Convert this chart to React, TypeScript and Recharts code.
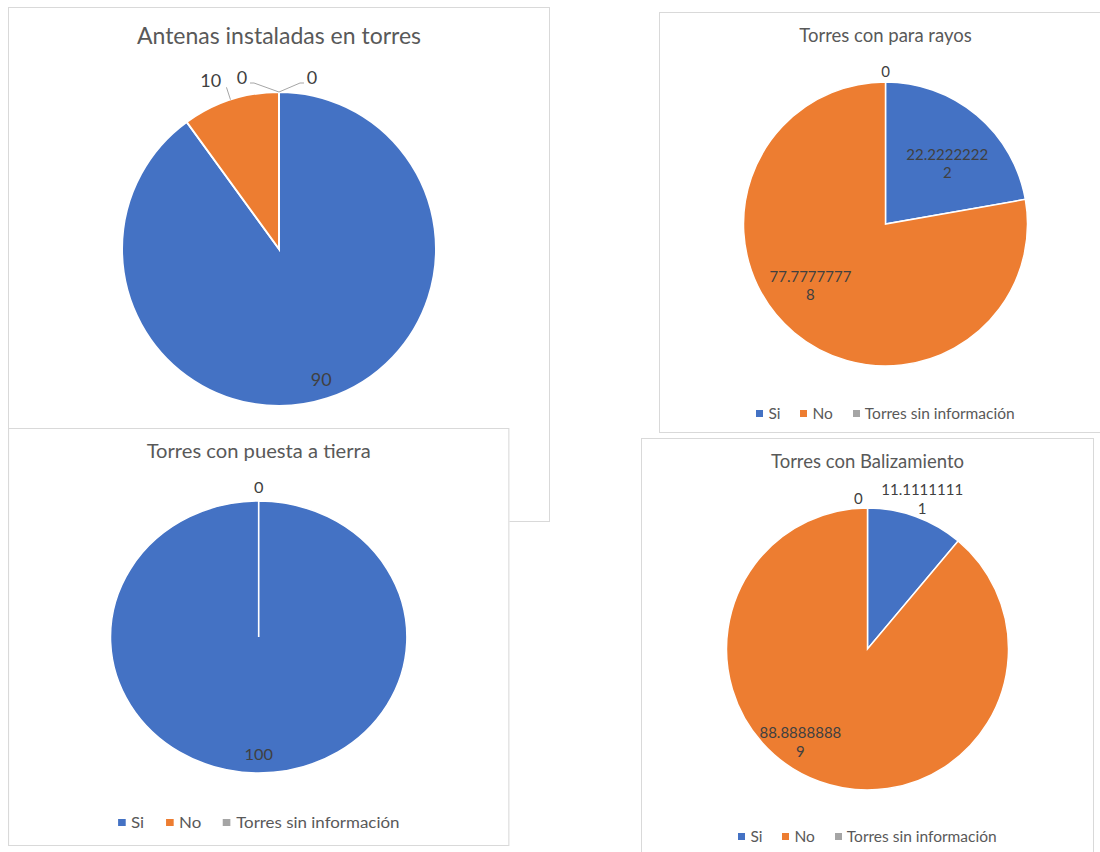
import React from 'react';
import { PieChart, Pie, Cell, Legend } from 'recharts';

const FONT = "Lato, 'Open Sans', sans-serif";
const SERIES_COLORS = ['#4472C4', '#ED7D31', '#A5A5A5', '#FFC000'];
const LABEL_COLOR = '#404040';
const TEXT_COLOR = '#595959';
const BORDER_COLOR = '#D9D9D9';
const LEADER_COLOR = '#A6A6A6';

// ---- data ----
const antenasTitle = 'Antenas instaladas en torres';
const antenasCategories = ['Si', 'No', 'Torres sin información', 'Sin dato'];
const antenasValues = [90, 10, 0, 0];

const towerCategories = ['Si', 'No', 'Torres sin información'];

const paraRayosTitle = 'Torres con para rayos';
const paraRayosValues = [22.22222222, 77.77777778, 0];

const puestaTierraTitle = 'Torres con puesta a tierra';
const puestaTierraValues = [100, 0, 0];

const balizamientoTitle = 'Torres con Balizamiento';
const balizamientoValues = [11.11111111, 88.88888889, 0];

type Row = { name: string; value: number };
const toRows = (cats: string[], vals: number[]): Row[] =>
  cats.map((name, i) => ({ name, value: vals[i] }));

type Place = { d?: number; shift?: number; leader?: 'radial' | 'left' | 'right'; overlapped?: boolean };

function splitLabel(v: number): string[] {
  const s = String(v);
  return s.length > 10 ? [s.slice(0, 10), s.slice(10)] : [s];
}

function makeLabel(places: Place[], fontSize: number, lineGap: number) {
  return (props: any) => {
    const { cx, cy, midAngle, outerRadius, index, value } = props;
    const r = outerRadius as number;
    const p = places[index] || { d: 0.7 };
    if (p.overlapped) return <g key={`lbl-${index}`} />;
    const lines = splitLabel(value);
    const textEl = (x: number, y: number) => (
      <text
        x={x}
        y={y}
        textAnchor="middle"
        fill={LABEL_COLOR}
        fontSize={fontSize}
        fontFamily={FONT}
      >
        {lines.map((ln, i) => (
          <tspan
            key={i}
            x={x}
            y={y + (i - (lines.length - 1) / 2) * lineGap}
            dominantBaseline="central"
          >
            {ln}
          </tspan>
        ))}
      </text>
    );
    if (p.leader === 'left' || p.leader === 'right') {
      const s = p.leader === 'left' ? -1 : 1;
      const top = cy - r;
      const ex = cx + s * (p.leader === 'left' ? 25 : 21);
      const ey = top - 9;
      const fx = ex + s * 4;
      return (
        <g key={`lbl-${index}`}>
          <polyline
            points={`${cx},${top} ${ex},${ey} ${fx},${ey}`}
            fill="none"
            stroke={LEADER_COLOR}
            strokeWidth={1}
          />
          {textEl(fx + s * 8, ey - 6)}
        </g>
      );
    }
    const mid = 90 - midAngle;
    const theta = ((mid + (p.shift || 0)) * Math.PI) / 180;
    const d = (p.d || 0.7) * r;
    const x = cx + d * Math.sin(theta);
    const y = cy - d * Math.cos(theta);
    if (p.leader === 'radial') {
      const t0 = (mid * Math.PI) / 180;
      return (
        <g key={`lbl-${index}`}>
          <line
            x1={cx + r * Math.sin(t0)}
            y1={cy - r * Math.cos(t0)}
            x2={cx + (r + 13) * Math.sin(t0)}
            y2={cy - (r + 13) * Math.cos(t0)}
            stroke={LEADER_COLOR}
            strokeWidth={1}
          />
          {textEl(x, y)}
        </g>
      );
    }
    return <g key={`lbl-${index}`}>{textEl(x, y)}</g>;
  };
}

const renderLegend = (props: any) => {
  const payload = [...(props.payload || [])].sort(
    (a: any, b: any) => towerCategories.indexOf(a.value) - towerCategories.indexOf(b.value)
  );
  return (
    <div
      style={{
        display: 'flex',
        justifyContent: 'center',
        alignItems: 'center',
        fontFamily: FONT,
        fontSize: 15.5,
        lineHeight: '20px',
        color: TEXT_COLOR,
        whiteSpace: 'nowrap',
      }}
    >
      {payload.map((e: any, i: number) => {
        const ci = towerCategories.indexOf(e.value);
        return (
          <span
            key={i}
            style={{ display: 'flex', alignItems: 'center', marginLeft: i ? 20 : 0 }}
          >
            <span
              style={{
                display: 'inline-block',
                width: 7,
                height: 7,
                background: SERIES_COLORS[ci >= 0 ? ci : i],
                marginRight: 5,
              }}
            />
            {e.value}
          </span>
        );
      })}
    </div>
  );
};

type PanelProps = {
  left: number;
  top: number;
  width: number;
  height: number;
  scaleX?: number;
  title: string;
  titleSize: number;
  titleY: number;
  rows: Row[];
  radius: number;
  cy: number;
  places: Place[];
  labelSize: number;
  lineGap: number;
  strokeWidth: number;
  legendY?: number;
};

function PiePanel(p: PanelProps) {
  const iw = p.width - 2;
  const ih = p.height - 2;
  const cx = iw / 2;
  return (
    <div
      style={{
        position: 'absolute',
        left: p.left,
        top: p.top,
        width: p.width,
        height: p.height,
        boxSizing: 'border-box',
        border: `1px solid ${BORDER_COLOR}`,
        background: '#fff',
        transform: p.scaleX ? `scaleX(${p.scaleX})` : undefined,
        transformOrigin: '0 0',
      }}
    >
      <PieChart width={iw} height={ih} margin={{ top: 0, right: 0, bottom: 0, left: 0 }}>
        <Pie
          data={p.rows}
          dataKey="value"
          nameKey="name"
          cx={cx}
          cy={p.cy}
          outerRadius={p.radius}
          startAngle={90}
          endAngle={-270}
          stroke="#ffffff"
          strokeWidth={p.strokeWidth}
          label={makeLabel(p.places, p.labelSize, p.lineGap)}
          labelLine={false}
          isAnimationActive={false}
        >
          {p.rows.map((_, i) => (
            <Cell key={i} fill={SERIES_COLORS[i]} />
          ))}
        </Pie>
        {p.legendY != null && (
          <Legend
            content={renderLegend}
            wrapperStyle={{ left: 0, top: p.legendY - 10, width: iw, height: 20 }}
          />
        )}
      </PieChart>
      <div
        style={{
          position: 'absolute',
          left: 0,
          width: iw,
          top: p.titleY - 0.627 * p.titleSize,
          textAlign: 'center',
          fontFamily: FONT,
          fontSize: p.titleSize,
          lineHeight: `${1.2 * p.titleSize}px`,
          color: TEXT_COLOR,
          whiteSpace: 'nowrap',
        }}
      >
        {p.title}
      </div>
    </div>
  );
}

export default function App() {
  return (
    <div
      style={{
        position: 'absolute',
        left: 0,
        top: 0,
        width: 1100,
        height: 852,
        overflow: 'hidden',
        background: '#fff',
      }}
    >
      <PiePanel
        left={8}
        top={7}
        width={542}
        height={515}
        title={antenasTitle}
        titleSize={23}
        titleY={28}
        rows={toRows(antenasCategories, antenasValues)}
        radius={157}
        cy={241}
        places={[{ d: 0.87 }, { d: 1.16, shift: -4, leader: 'radial' }, { leader: 'left' }, { leader: 'right' }]}
        labelSize={18}
        lineGap={20}
        strokeWidth={2}
      />
      <PiePanel
        left={8}
        top={428}
        width={460}
        height={418}
        scaleX={1.09}
        title={puestaTierraTitle}
        titleSize={18.5}
        titleY={23}
        rows={toRows(towerCategories, puestaTierraValues)}
        radius={136}
        cy={208}
        places={[{ d: 0.86 }, { d: 1.1, overlapped: true }, { d: 1.1 }]}
        labelSize={15}
        lineGap={19}
        strokeWidth={1.5}
        legendY={393}
      />
      <PiePanel
        left={659}
        top={12}
        width={453}
        height={421}
        title={paraRayosTitle}
        titleSize={18.5}
        titleY={23}
        rows={toRows(towerCategories, paraRayosValues)}
        radius={142}
        cy={211}
        places={[{ d: 0.61, shift: 5.5 }, { d: 0.68, shift: 11 }, { d: 1.08 }]}
        labelSize={15}
        lineGap={18}
        strokeWidth={1.5}
        legendY={400}
      />
      <PiePanel
        left={641}
        top={438}
        width={453}
        height={421}
        title={balizamientoTitle}
        titleSize={18.5}
        titleY={23}
        rows={toRows(towerCategories, balizamientoValues)}
        radius={141}
        cy={210}
        places={[{ d: 1.134 }, { d: 0.81, shift: 16 }, { d: 1.073, shift: -3.5 }]}
        labelSize={15}
        lineGap={19}
        strokeWidth={1.5}
        legendY={397}
      />
    </div>
  );
}
